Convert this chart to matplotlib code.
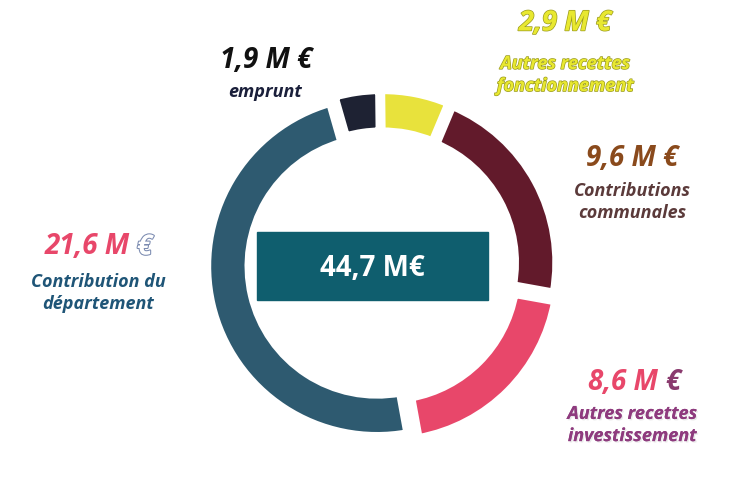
import matplotlib.pyplot as plt
import matplotlib.patheffects as pe
from matplotlib.patches import Rectangle

# data
labels = ["emprunt", "Autres recettes\nfonctionnement", "Contributions\ncommunales",
          "Autres recettes\ninvestissement", "Contribution du\ndépartement"]
values = [1.9, 2.9, 9.6, 8.6, 21.6]
amount_text = ["1,9 M", "2,9 M", "9,6 M", "8,6 M", "21,6 M"]
total_text = "44,7 M€"

colors = ["#1e2233", "#e8e23c", "#621a2b", "#e8476a", "#2e5a70"]
explode = [0.03, 0.03, 0.03, 0.05, 0.03]

W, H = 731, 480
cx, cy, R = 382, 265, 170


def pos(px, py):
    return (px - cx) / R, (cy - py) / R


plt.rcParams['font.family'] = ['Open Sans', 'DejaVu Sans']

fig = plt.figure(figsize=(W / 100, H / 100), dpi=100)
ax = fig.add_axes([0, 0, 1, 1])

ax.pie(values, colors=colors, startangle=106, counterclock=False, explode=explode,
       radius=1.0, wedgeprops=dict(width=0.245, edgecolor='white', linewidth=6))

ax.set_xlim(-cx / R, (W - cx) / R)
ax.set_ylim(-(H - cy) / R, cy / R)
ax.set_aspect('equal')
ax.axis('off')

# centre box
x0, y1 = pos(257, 232)
x1, y0 = pos(488, 300)
ax.add_patch(Rectangle((x0, y0), x1 - x0, y1 - y0, color="#0f5e6e", zorder=5))
ax.text(*pos(372, 268), total_text, color="white", fontsize=20, fontweight='bold',
        ha='center', va='center', zorder=6)

big = dict(fontsize=20, fontweight='bold', fontstyle='italic', va='center')
small = dict(fontsize=13, fontweight='bold', fontstyle='italic', ha='center', va='center',
             linespacing=1.3)

# emprunt
ax.text(*pos(266, 60), amount_text[0] + " €", color="#111111", ha='center', **big)
ax.text(*pos(265, 92), labels[0], color="#1a1f3a", **small)

# autres recettes fonctionnement
olive = [pe.withStroke(linewidth=1.0, foreground="#9a9a20")]
ax.text(*pos(565, 23), amount_text[1] + " €", color="#e8e830", ha='center',
        path_effects=olive, **big)
ax.text(*pos(565, 75), labels[1], color="#e8e830", path_effects=olive, **small)

# contributions communales
ax.text(*pos(632, 158), amount_text[2] + " €", color="#8a4a1c", ha='center', **big)
ax.text(*pos(632, 202), labels[2], color="#5b3a3a", **small)

# autres recettes investissement
ax.text(*pos(658, 383), amount_text[3], color="#e8476a", ha='right', **big)
ax.text(*pos(665, 383), "€", color="#8a3a6e", ha='left', **big)
shadow = [pe.withSimplePatchShadow(offset=(1, -1), shadow_rgbFace="#bbbbbb"), pe.Normal()]
ax.text(*pos(632, 425), labels[3], color="#8e3b7e", path_effects=shadow, **small)

# contribution du département
ax.text(*pos(130, 247), amount_text[4], color="#e8476a", ha='right', **big)
ax.text(*pos(137, 247), "€", color="white", ha='left',
        path_effects=[pe.withStroke(linewidth=1.5, foreground="#7a8ab0")], **big)
ax.text(*pos(98, 293), labels[4], color="#1f5577", **small)

fig.savefig("out.png", dpi=100)
